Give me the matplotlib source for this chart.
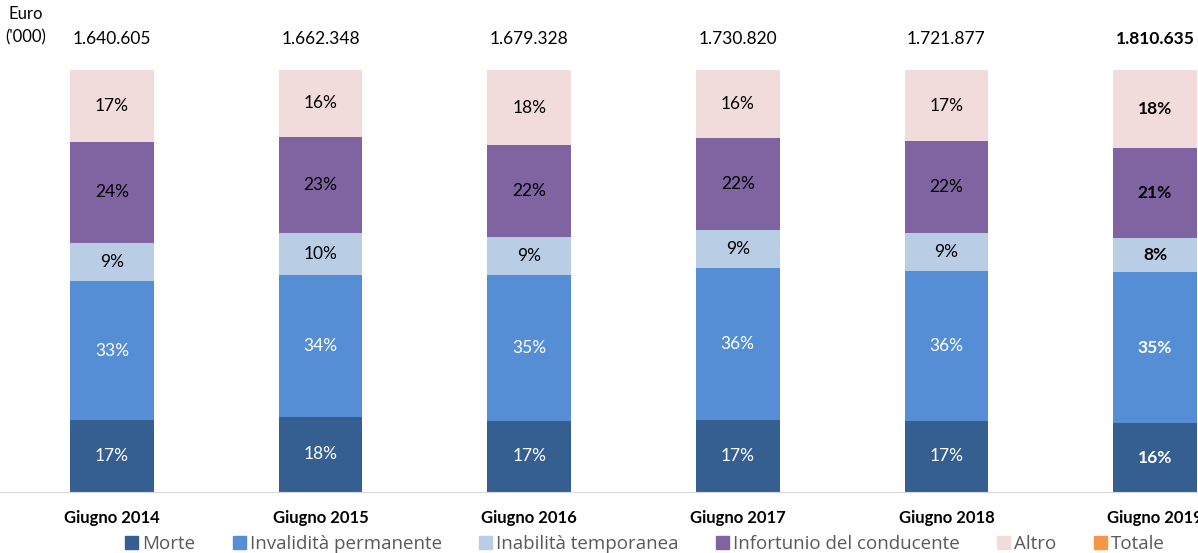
import numpy as np
import matplotlib
matplotlib.use("Agg")
import matplotlib.pyplot as plt
from matplotlib.patches import Patch

plt.rcParams['font.family'] = ['Lato', 'DejaVu Sans']

periods = ["Giugno 2014", "Giugno 2015", "Giugno 2016", "Giugno 2017", "Giugno 2018", "Giugno 2019"]
totals = ["1.640.605", "1.662.348", "1.679.328", "1.730.820", "1.721.877", "1.810.635"]
series = ["Morte", "Invalidità permanente", "Inabilità temporanea", "Infortunio del conducente", "Altro"]
morte = [17, 18, 17, 17, 17, 16]
invalidita = [33, 34, 35, 36, 36, 35]
inabilita = [9, 10, 9, 9, 9, 8]
infortunio = [24, 23, 22, 22, 22, 21]
altro = [17, 16, 18, 16, 17, 18]

colors = ["#365F91", "#558ED5", "#B9CDE5", "#8064A2", "#F2DCDB"]
text_colors = ["white", "white", "black", "black", "black"]
totale_color = "#F79646"

data = np.array([morte, invalidita, inabilita, infortunio, altro], dtype=float)
shares = data / data.sum(axis=0) * 100  # 100% stacked

W, H = 1198, 553
fig = plt.figure(figsize=(W / 100, H / 100), dpi=100)
ax = fig.add_axes([0, (H - 492) / H, 1, (492 - 70) / H])

step = 208.6
x = np.arange(len(periods))
ax.set_xlim(-112 / step, (W - 112) / step)
ax.set_ylim(0, 100)

bottom = np.zeros(len(periods))
for k, name in enumerate(series):
    ax.bar(x, shares[k], bottom=bottom, width=0.40, color=colors[k], edgecolor="none")
    for i in x:
        ax.text(i, bottom[i] + shares[k][i] / 2, f"{int(data[k][i])}%",
                ha="center", va="center", fontsize=12.5, color=text_colors[k],
                fontweight="bold" if i == len(periods) - 1 else "normal")
    bottom += shares[k]

for i in x:
    ax.text(i, 107.4, totals[i], ha="center", va="center", fontsize=12.5,
            fontweight="bold" if i == len(periods) - 1 else "normal", clip_on=False)

ax.text(-0.415, 110.5, "Euro\n('000)", ha="center", va="center", fontsize=12, linespacing=1.5)

for s in ["top", "right", "left"]:
    ax.spines[s].set_visible(False)
ax.spines["bottom"].set_color("#D9D9D9")
ax.set_yticks([])
ax.set_xticks(x)
ax.set_xticklabels(periods, fontsize=12, fontweight="bold")
ax.tick_params(axis="x", length=0, pad=13)

handles = [Patch(color=c) for c in colors] + [Patch(color=totale_color)]
fig.legend(handles, series + ["Totale"], loc="center", bbox_to_anchor=(645 / W, 1 - 544 / H),
           ncol=6, frameon=False, handlelength=0.7, handleheight=0.7,
           handletextpad=0.2, columnspacing=2.0,
           prop={'family': ['Open Sans', 'DejaVu Sans'], 'size': 13.5})
for t in fig.legends[0].get_texts():
    t.set_color("#595959")

fig.savefig("out.png", dpi=100)
